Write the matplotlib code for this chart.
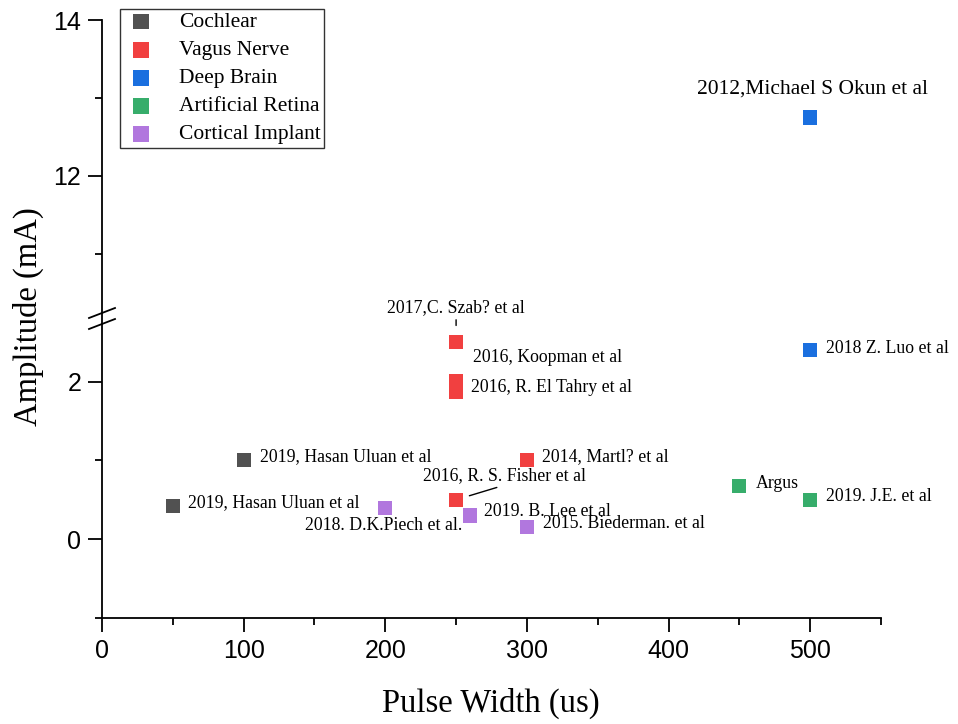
import matplotlib
matplotlib.use('Agg')
import matplotlib.pyplot as plt
from matplotlib.lines import Line2D

plt.rcParams.update({
    'font.family': ['Liberation Sans', 'DejaVu Sans'],
    'axes.linewidth': 1.3,
    'xtick.major.width': 1.3,
    'ytick.major.width': 1.3,
    'xtick.minor.width': 1.3,
    'ytick.minor.width': 1.3,
})
SERIF = ['Times New Roman', 'Liberation Serif', 'DejaVu Serif']

# stimulation parameters per implant type: pulse width (us), amplitude (mA)
categories = ['Cochlear', 'Vagus Nerve', 'Deep Brain', 'Artificial Retina', 'Cortical Implant']
colors = ['#515151', '#F14040', '#1A6FDF', '#37AD6B', '#B177DE']

cochlear_pw = [50, 100]
cochlear_amp = [0.42, 1.0]
cochlear_refs = ['2019, Hasan Uluan et al', '2019, Hasan Uluan et al']

vagus_pw = [250, 250, 250, 300, 250]
vagus_amp = [2.5, 2.0, 1.87, 1.0, 0.5]
vagus_refs = ['2017,C. Szab? et al', '2016, Koopman et al', '2016, R. El Tahry et al',
              '2014, Martl? et al', '2016, R. S. Fisher et al']

deep_pw = [500, 500]
deep_amp = [12.75, 2.4]
deep_refs = ['2012,Michael S Okun et al', '2018 Z. Luo et al']

retina_pw = [450, 500]
retina_amp = [0.67, 0.5]
retina_refs = ['Argus', '2019. J.E. et al']

cortical_pw = [200, 260, 300]
cortical_amp = [0.4, 0.3, 0.15]
cortical_refs = ['2018. D.K.Piech et al.', '2019. B. Lee et al', '2015. Biederman. et al']

series = [
    (cochlear_pw, cochlear_amp, cochlear_refs),
    (vagus_pw, vagus_amp, vagus_refs),
    (deep_pw, deep_amp, deep_refs),
    (retina_pw, retina_amp, retina_refs),
    (cortical_pw, cortical_amp, cortical_refs),
]

# label placement: (dx, dy) in pixels from the marker, alignment, leader line
label_style = {
    '2019, Hasan Uluan et al': [(15, 3, 'left', None), (16, 4, 'left', None)],
    '2017,C. Szab? et al': [(0, 35, 'center', (0.5, 0.0, 12))],
    '2016, Koopman et al': [(17, 24, 'left', None)],
    '2016, R. El Tahry et al': [(15, 4, 'left', None)],
    '2014, Martl? et al': [(15, 4, 'left', None)],
    '2016, R. S. Fisher et al': [(48, 24, 'center', (0.52, 0.0, 10))],
    '2012,Michael S Okun et al': [(2, 28, 'center', None)],
    '2018 Z. Luo et al': [(16, 2, 'left', None)],
    'Argus': [(16, 3, 'left', None)],
    '2019. J.E. et al': [(16, 3, 'left', None)],
    '2018. D.K.Piech et al.': [(-2, -18, 'center', None)],
    '2019. B. Lee et al': [(14, 4, 'left', None)],
    '2015. Biederman. et al': [(16, 4, 'left', None)],
}

W, H = 958, 724
fig = plt.figure(figsize=(W / 100, H / 100), dpi=100)

left, right, top, brk, bottom = 102, 881, 20, 324, 618
ax_hi = fig.add_axes([left / W, 1 - brk / H, (right - left) / W, (brk - top) / H])
ax_lo = fig.add_axes([left / W, 1 - bottom / H, (right - left) / W, (bottom - brk) / H])

ax_hi.set_ylim(10.1, 14)
ax_lo.set_ylim(-1, 2.73)
for ax in (ax_hi, ax_lo):
    ax.set_xlim(0, 550)
    ax.spines['top'].set_visible(False)
    ax.spines['right'].set_visible(False)
    ax.patch.set_alpha(0)
ax_hi.spines['bottom'].set_visible(False)
ax_hi.tick_params(axis='x', which='both', bottom=False, labelbottom=False)

ax_hi.set_yticks([12, 14])
ax_hi.set_yticks([11, 13], minor=True)
ax_lo.set_yticks([0, 2])
ax_lo.set_yticks([-1, 1], minor=True)
ax_lo.set_xticks([0, 100, 200, 300, 400, 500])
ax_lo.set_xticks([50, 150, 250, 350, 450, 550], minor=True)

for ax in (ax_hi, ax_lo):
    ax.tick_params(axis='both', which='major', direction='out', length=10,
                   labelsize=18, pad=5)
    ax.tick_params(axis='both', which='minor', direction='out', length=5)

for (pw, amp, refs), cat, col in zip(series, categories, colors):
    for ax in (ax_hi, ax_lo):
        ax.scatter(pw, amp, marker='s', s=105, color=col, edgecolors='none',
                   zorder=3, label=cat if ax is ax_lo else None)
    used = {}
    for x, y, ref in zip(pw, amp, refs):
        k = used.get(ref, 0)
        used[ref] = k + 1
        dx, dy, ha, leader = label_style[ref][k]
        ax = ax_hi if y > 5 else ax_lo
        size = 15.5 if y > 5 else 12.8
        kw = {}
        if leader is not None:
            rx, ry, shrink = leader
            kw['arrowprops'] = dict(arrowstyle='-', color='black', lw=1,
                                    shrinkA=1, shrinkB=shrink,
                                    relpos=(rx, ry))
        ax.annotate(ref, xy=(x, y), xytext=(dx, dy), textcoords='offset pixels',
                    ha=ha, va='center', fontsize=size, family=SERIF, **kw)

# axis break marks on the left spine
for yb in (brk - 6, brk + 5):
    fig.add_artist(Line2D([89 / W, 115 / W], [1 - yb / H, 1 - (yb - 10) / H],
                          color='black', lw=1.3))

handles, labels = ax_lo.get_legend_handles_labels()
leg = fig.legend(handles, labels, loc='upper left',
                 bbox_to_anchor=(120 / W, 1 - 9 / H), bbox_transform=fig.transFigure,
                 borderaxespad=0, frameon=True, fancybox=False,
                 prop={'family': SERIF, 'size': 15.5}, handletextpad=0.94,
                 labelspacing=0.37, borderpad=0.15, markerscale=1.1,
                 handlelength=1.65)
leg.get_frame().set_edgecolor('black')
leg.get_frame().set_linewidth(1.0)

fig.text(491 / W, 1 - 703 / H, 'Pulse Width (us)', ha='center', va='center',
         fontsize=23.5, family=SERIF)
fig.text(28 / W, 1 - 317 / H, 'Amplitude (mA)', ha='center', va='center',
         rotation=90, fontsize=23.5, family=SERIF)

fig.savefig('out.png', dpi=100)
